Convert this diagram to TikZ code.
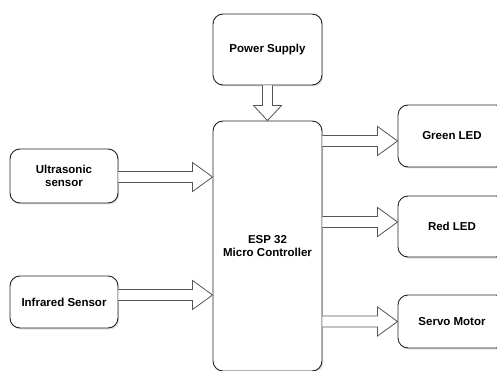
\documentclass[tikz,border=0pt]{standalone}
\usepackage{fontspec}
\setmainfont{Liberation Sans}
\usetikzlibrary{calc,shadows}
\definecolor{boxline}{HTML}{222222}
\definecolor{arrline}{HTML}{555555}
\tikzset{
  blk/.style={draw=boxline, line width=0.9pt, rounded corners=10pt, fill=white,
    inner sep=0pt, align=center, font=\fontsize{11.5}{13.5}\selectfont\bfseries,
    drop shadow={opacity=0.25, shadow xshift=1.2pt, shadow yshift=-1.5pt}},
  barrow/.style={draw=arrline, line width=0.8pt, fill=white, line join=miter}
}
\newcommand\harrow[2]{%
  \draw[barrow] let \p1=(#1), \p2=(#2) in
    (\x1,\y1+5.5pt) -- (\x2-20pt,\y1+5.5pt) -- (\x2-20pt,\y1+14.5pt) -- (\x2,\y1)
    -- (\x2-20pt,\y1-14.5pt) -- (\x2-20pt,\y1-5.5pt) -- (\x1,\y1-5.5pt);}
\begin{document}
\begin{tikzpicture}[x=1pt,y=-1pt]
\useasboundingbox (0,0) rectangle (497,371);
\node[blk, minimum width=109pt, minimum height=71pt] (power) at (267.5,49.5) {Power Supply};
\node[blk, minimum width=109pt, minimum height=250pt] (esp) at (267.5,246) {ESP 32\\Micro Controller};
\node[blk, minimum width=108pt, minimum height=54pt] (ultra) at (64,176) {Ultrasonic\\sensor};
\node[blk, minimum width=108pt, minimum height=52pt] (infra) at (64,302) {Infrared Sensor};
\node[blk, minimum width=108pt, minimum height=62pt] (green) at (452,136) {Green LED};
\node[blk, minimum width=108pt, minimum height=61pt] (red) at (452,226.5) {Red LED};
\node[blk, minimum width=108pt, minimum height=53pt] (servo) at (452,321.5) {Servo Motor};
% vertical arrow
\draw[barrow] let \p1=(power.south), \p2=(esp.north) in
  (\x1-5pt,\y1) -- (\x1-5pt,\y2+15pt) -- (\x1-14pt,\y2+15pt) -- (\x2,\y2)
  -- (\x1+14pt,\y2+15pt) -- (\x1+5pt,\y2+15pt) -- (\x1+5pt,\y1);
% horizontal arrows
\coordinate (u1) at ([yshift=-1pt]ultra.east);
\coordinate (u2) at (esp.west |- u1);
\harrow{u1}{u2}
\coordinate (i1) at ([yshift=7pt]infra.east);
\coordinate (i2) at (esp.west |- i1);
\harrow{i1}{i2}
\coordinate (g2) at ([yshift=-5pt]green.west);
\coordinate (g1) at (esp.east |- g2);
\harrow{g1}{g2}
\coordinate (r2) at ([yshift=4.5pt]red.west);
\coordinate (r1) at (esp.east |- r2);
\harrow{r1}{r2}
\coordinate (s2) at (servo.west);
\coordinate (s1) at (esp.east |- s2);
\harrow{s1}{s2}
\end{tikzpicture}
\end{document}
